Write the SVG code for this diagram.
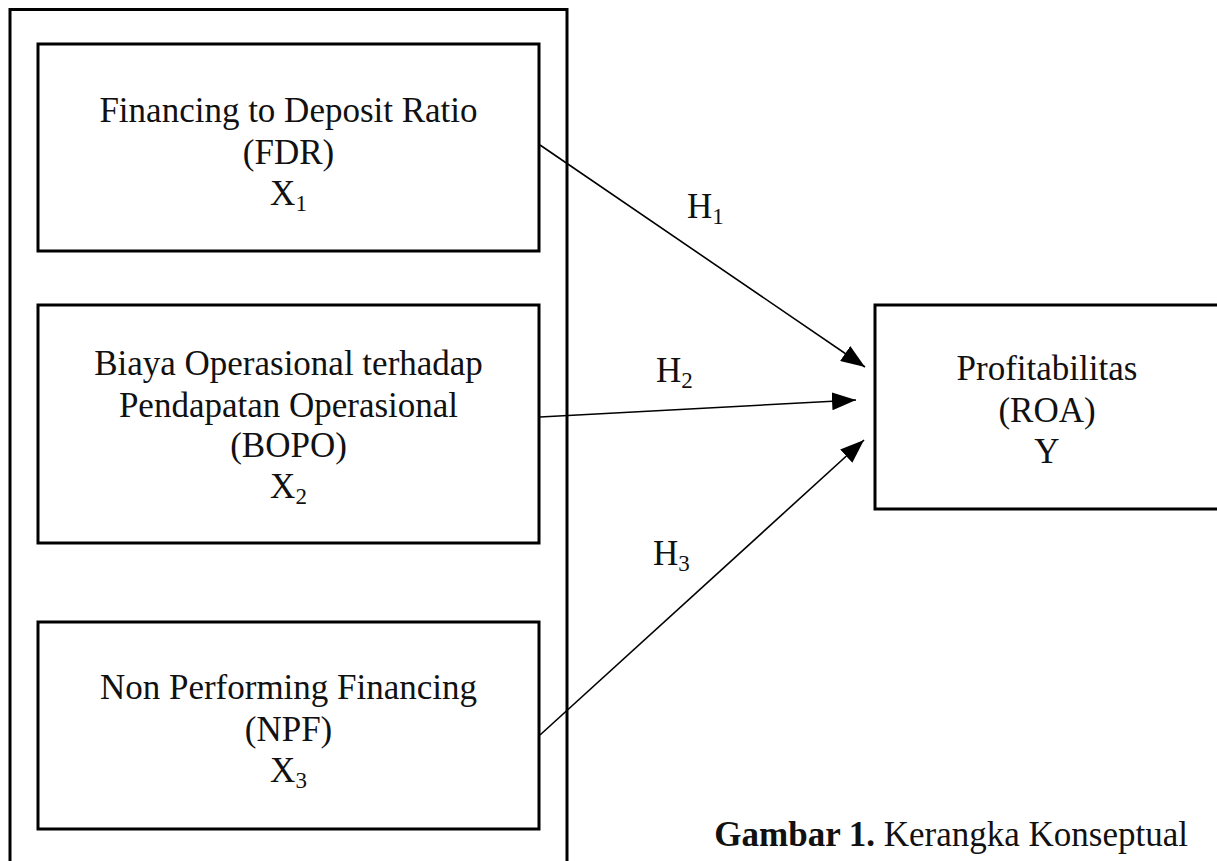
<svg xmlns="http://www.w3.org/2000/svg" width="1217" height="861" viewBox="0 0 1217 861">
<defs>
<style>
.box{fill:none;stroke:#000;stroke-width:3}
.t{font-family:"Liberation Serif","Times New Roman",serif;font-size:35px;fill:#111;text-anchor:middle}
.lbl{font-family:"Liberation Serif","Times New Roman",serif;font-size:35px;fill:#111}
.sub{font-size:23px}
.conn{stroke:#000;stroke-width:1.6;fill:none}
</style>
<marker id="ahb" viewBox="0 0 24 18" refX="24" refY="9" markerWidth="24" markerHeight="18" markerUnits="userSpaceOnUse" orient="auto">
<path d="M0,0 L24,9 L0,18 Z" fill="#000"/>
</marker>
</defs>
<rect width="1217" height="861" fill="#fff"/>
<g id="group-x">
<path class="box" d="M10,870 V9.5 H567 V870"/>
</g>
<g id="node-fdr">
<rect class="box" x="38" y="44" width="501" height="207"/>
<text class="t" x="288.5" y="122">Financing to Deposit Ratio</text>
<text class="t" x="288.5" y="163.5">(FDR)</text>
<text class="t" x="288.5" y="205">X<tspan class="sub" dy="6">1</tspan></text>
</g>
<g id="node-bopo">
<rect class="box" x="38" y="305" width="501" height="238"/>
<text class="t" x="288.5" y="375">Biaya Operasional terhadap</text>
<text class="t" x="288.5" y="416.5">Pendapatan Operasional</text>
<text class="t" x="288.5" y="457">(BOPO)</text>
<text class="t" x="288.5" y="498">X<tspan class="sub" dy="6">2</tspan></text>
</g>
<g id="node-npf">
<rect class="box" x="38" y="622" width="501" height="207"/>
<text class="t" x="288.5" y="699">Non Performing Financing</text>
<text class="t" x="288.5" y="740.5">(NPF)</text>
<text class="t" x="288.5" y="782">X<tspan class="sub" dy="6">3</tspan></text>
</g>
<g id="node-roa">
<rect class="box" x="875" y="305" width="344" height="204"/>
<text class="t" x="1047" y="380">Profitabilitas</text>
<text class="t" x="1047" y="422">(ROA)</text>
<text class="t" x="1047" y="463">Y</text>
</g>
<g id="connectors">
<line class="conn" x1="540" y1="145" x2="865" y2="367" marker-end="url(#ahb)"/>
<line class="conn" x1="540" y1="417" x2="856" y2="400" marker-end="url(#ahb)"/>
<line class="conn" x1="540" y1="735" x2="864" y2="440" marker-end="url(#ahb)"/>
<text class="lbl" x="687" y="218">H<tspan class="sub" dy="6">1</tspan></text>
<text class="lbl" x="656" y="382">H<tspan class="sub" dy="6">2</tspan></text>
<text class="lbl" x="653" y="565">H<tspan class="sub" dy="6">3</tspan></text>
</g>
<g id="caption">
<text class="lbl" x="1188" y="846" text-anchor="end"><tspan font-weight="bold">Gambar 1.</tspan> Kerangka Konseptual</text>
</g>
</svg>
